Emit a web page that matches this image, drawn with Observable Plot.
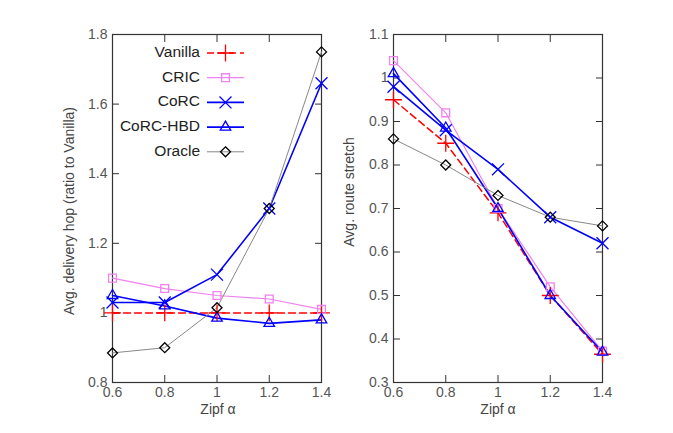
<!DOCTYPE html>
<html>
<head>
<meta charset="utf-8">
<script src="https://cdn.jsdelivr.net/npm/d3@7"></script>
<script src="https://cdn.jsdelivr.net/npm/@observablehq/plot@0.6"></script>
<style>
  html, body { margin: 0; padding: 0; background: #fff; }
  #wrap { position: relative; width: 673px; height: 433px; font-family: "Liberation Sans", Arial, sans-serif; }
  #left, #right { position: absolute; top: 0; }
  #left { left: 0; }
  #right { left: 336px; }
</style>
</head>
<body>
<div id="wrap"><div id="left"></div><div id="right"></div></div>
<script>
// ---- data ----
const zipf = [0.6, 0.8, 1.0, 1.2, 1.4];
const xTicks = [0.6, 0.8, 1.0, 1.2, 1.4];
const series = ["Vanilla", "CRIC", "CoRC", "CoRC-HBD", "Oracle"];

// Left panel: Avg. delivery hop (ratio to Vanilla)
const hopVanilla = [1.0, 1.0, 1.0, 1.0, 1.0];
const hopCRIC    = [1.10, 1.07, 1.05, 1.04, 1.01];
const hopCoRC    = [1.03, 1.03, 1.11, 1.30, 1.66];
const hopCoRCHBD = [1.05, 1.02, 0.985, 0.97, 0.98];
const hopOracle  = [0.885, 0.90, 1.015, 1.30, 1.75];
const hopTicks = [0.8, 1.0, 1.2, 1.4, 1.6, 1.8];

// Right panel: Avg. route stretch
const strVanilla = [0.95, 0.85, 0.69, 0.50, 0.365];
const strCRIC    = [1.04, 0.92, 0.70, 0.52, 0.372];
const strCoRC    = [0.98, 0.88, 0.79, 0.68, 0.62];
const strCoRCHBD = [1.01, 0.885, 0.70, 0.50, 0.37];
const strOracle  = [0.86, 0.80, 0.73, 0.68, 0.66];
const strTicks = [0.3, 0.4, 0.5, 0.6, 0.7, 0.8, 0.9, 1.0, 1.1];

// ---- styles ----
const styles = {
  "Vanilla":  {color: "#ff0000", symbol: "plus",      width: 1.5, dash: "7,4", r: 5.5},
  "CRIC":     {color: "#ee82ee", symbol: "square2",   width: 1.2, dash: null,  r: 5},
  "CoRC":     {color: "#0000ff", symbol: "times",     width: 1.6, dash: null,  r: 5.5},
  "CoRC-HBD": {color: "#0000ff", symbol: "triangle2", width: 1.6, dash: null,  r: 5},
  "Oracle":   {color: "#000000", lineColor: "#888888", symbol: "diamond2", width: 1.0, dash: null, r: 4.5}
};

function toRows(arrs) {
  const rows = [];
  series.forEach((s, i) => zipf.forEach((x, j) => rows.push({series: s, x, y: arrs[i][j]})));
  return rows;
}

const fmt = d => (Math.abs(d - 1) < 1e-9 ? "1" : d3.format(".1f")(d));

function panel({rows, yDomain, yTicks, width, marginLeft, marginRight, yLabel, yLabelPos, xLabelX, legend}) {
  const marks = [];
  for (const s of series) {
    const st = styles[s];
    const d = rows.filter(r => r.series === s);
    marks.push(Plot.line(d, {x: "x", y: "y", stroke: st.lineColor || st.color, strokeWidth: st.width, strokeDasharray: st.dash}));
  }
  for (const s of series) {
    const st = styles[s];
    const d = rows.filter(r => r.series === s);
    marks.push(Plot.dot(d, {x: "x", y: "y", symbol: () => st.symbol, stroke: st.color, fill: "none", r: st.r, strokeWidth: 1.3}));
  }
  const axisColor = "#333";
  const plot = Plot.plot({
    width, height: 433,
    marginLeft, marginRight, marginTop: 34, marginBottom: 51,
    style: {fontFamily: "Liberation Sans, Arial, sans-serif", fontSize: "14px", color: "#555", background: "transparent", overflow: "visible"},
    x: {domain: [0.6, 1.4]},
    y: {domain: yDomain},
    symbol: {type: "identity"},
    marks: [
      Plot.frame({stroke: axisColor, strokeWidth: 1.2}),
      // inward ticks on all four sides
      Plot.axisX(xTicks, {anchor: "bottom", tickSize: -7, tickFormat: () => "", label: null, stroke: axisColor}),
      Plot.axisX(xTicks, {anchor: "top", tickSize: -7, tickFormat: () => "", label: null, stroke: axisColor}),
      Plot.axisY(yTicks, {anchor: "left", tickSize: -7, tickFormat: () => "", label: null, stroke: axisColor}),
      Plot.axisY(yTicks, {anchor: "right", tickSize: -7, tickFormat: () => "", label: null, stroke: axisColor}),
      // labels
      Plot.axisX(xTicks, {anchor: "bottom", tickSize: 0, tickPadding: 5, tickFormat: fmt, label: null, fill: "#555"}),
      Plot.axisY(yTicks, {anchor: "left", tickSize: 0, tickPadding: 5, tickFormat: fmt, label: null, fill: "#555"}),
      ...marks
    ]
  });
  const svg = d3.select(plot);
  // axis titles
  svg.append("text")
    .attr("transform", `translate(${yLabelPos[0]},${yLabelPos[1]}) rotate(-90)`)
    .attr("text-anchor", "middle").attr("dominant-baseline", "middle")
    .attr("fill", "#444").style("font-size", "14px")
    .text(yLabel);
  svg.append("text")
    .attr("x", xLabelX).attr("y", 410)
    .attr("text-anchor", "middle").attr("dominant-baseline", "middle")
    .attr("fill", "#444").style("font-size", "14px")
    .text("Zipf α");
  if (legend) {
    const g = svg.append("g");
    series.forEach((s, i) => {
      const st = styles[s];
      const y = 53 + i * 24.7;
      g.append("text").attr("x", 200).attr("y", y)
        .attr("text-anchor", "end").attr("dominant-baseline", "middle")
        .attr("fill", "#222").style("font-size", "15.5px").text(s);
      g.append("line").attr("x1", 207).attr("x2", 244).attr("y1", y).attr("y2", y)
        .attr("stroke", st.lineColor || st.color).attr("stroke-width", st.width)
        .attr("stroke-dasharray", st.dash);
      const symMap = {plus: d3.symbolPlus, square2: d3.symbolSquare2, times: d3.symbolTimes, triangle2: d3.symbolTriangle2, diamond2: d3.symbolDiamond2};
      g.append("path").attr("transform", `translate(225.5,${y})`)
        .attr("d", d3.symbol(symMap[st.symbol], Math.PI * st.r * st.r)())
        .attr("fill", "none").attr("stroke", st.color).attr("stroke-width", 1.3);
    });
  }
  return plot;
}

document.getElementById("left").appendChild(panel({
  rows: toRows([hopVanilla, hopCRIC, hopCoRC, hopCoRCHBD, hopOracle]),
  yDomain: [0.8, 1.8], yTicks: hopTicks, width: 336, marginLeft: 112, marginRight: 15,
  yLabel: "Avg. delivery hop (ratio to Vanilla)", yLabelPos: [70, 211], xLabelX: 218, legend: true
}));
document.getElementById("right").appendChild(panel({
  rows: toRows([strVanilla, strCRIC, strCoRC, strCoRCHBD, strOracle]),
  yDomain: [0.3, 1.1], yTicks: strTicks, width: 337, marginLeft: 57, marginRight: 71,
  yLabel: "Avg. route stretch", yLabelPos: [14, 192], xLabelX: 162, legend: false
}));
</script>
</body>
</html>
